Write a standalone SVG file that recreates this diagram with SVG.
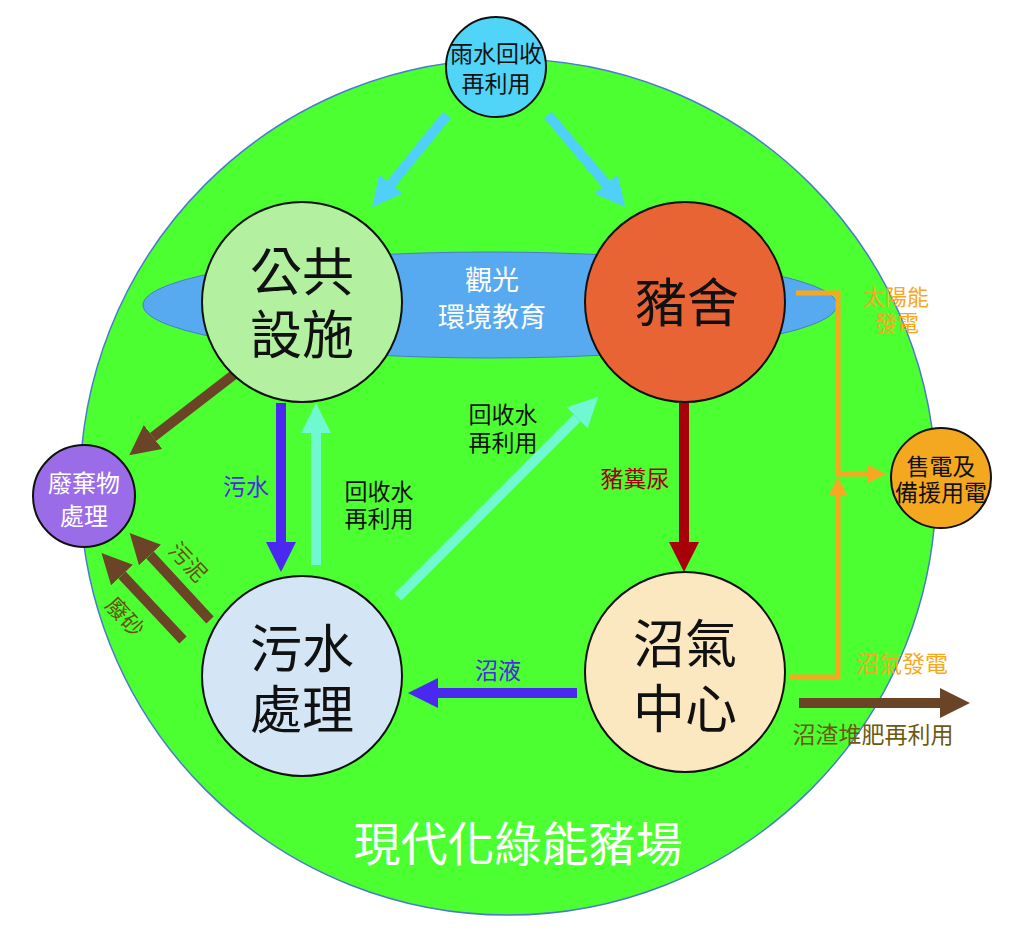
<svg xmlns="http://www.w3.org/2000/svg" width="1024" height="946" viewBox="0 0 1024 946">
<style>
.t{font-family:"Noto Sans CJK TC","Noto Sans CJK SC",sans-serif;text-anchor:middle}
.node{stroke:#111;stroke-width:2}
.big{font-size:52px;fill:#111}
.mid{font-size:23px}
.arr{fill:none;stroke-width:10}
</style>
<defs>
<marker id="hCyan" viewBox="0 0 10 10" refX="0" refY="5" markerWidth="3" markerHeight="3" orient="auto"><path d="M0,0 L10,5 L0,10 z" fill="#50d0f8"/></marker>
<marker id="hAqua" viewBox="0 0 10 10" refX="0" refY="5" markerWidth="3" markerHeight="3" orient="auto"><path d="M0,0 L10,5 L0,10 z" fill="#70f8d0"/></marker>
<marker id="hBlue" viewBox="0 0 10 10" refX="0" refY="5" markerWidth="3" markerHeight="3" orient="auto"><path d="M0,0 L10,5 L0,10 z" fill="#4a28f0"/></marker>
<marker id="hRed" viewBox="0 0 10 10" refX="0" refY="5" markerWidth="3" markerHeight="3" orient="auto"><path d="M0,0 L10,5 L0,10 z" fill="#a80008"/></marker>
<marker id="hBrown" viewBox="0 0 10 10" refX="0" refY="5" markerWidth="3" markerHeight="3" orient="auto"><path d="M0,0 L10,5 L0,10 z" fill="#6b4428"/></marker>
<marker id="hOrange" viewBox="0 0 10 10" refX="0" refY="5" markerWidth="3.6" markerHeight="3.6" orient="auto"><path d="M0,0 L10,5 L0,10 z" fill="#f8a820"/></marker>
</defs>

<g id="farm">
<circle cx="508" cy="487" r="428" fill="#4cff30" stroke="#4a7bd0" stroke-width="1.5"/>
<text class="t" x="518" y="861" font-size="47" fill="#fff">現代化綠能豬場</text>
</g>

<g id="tourism">
<ellipse cx="490" cy="305" rx="347" ry="53" fill="#58aaf0" stroke="#4a7bd0" stroke-width="1"/>
<text class="t" x="492" y="290" font-size="27" fill="#fff">觀光</text>
<text class="t" x="492" y="327" font-size="27" fill="#fff">環境教育</text>
</g>

<g id="connectors">
<line class="arr" x1="447" y1="115" x2="391" y2="184" stroke="#50d0f8" marker-end="url(#hCyan)"/>
<line class="arr" x1="548" y1="115" x2="606" y2="184" stroke="#50d0f8" marker-end="url(#hCyan)"/>
<line class="arr" x1="236" y1="373" x2="153" y2="437" stroke="#6b4428" marker-end="url(#hBrown)"/>
<line class="arr" x1="281" y1="403" x2="281" y2="542" stroke="#4a28f0" marker-end="url(#hBlue)"/>
<line class="arr" x1="316" y1="565" x2="316" y2="433" stroke="#70f8d0" marker-end="url(#hAqua)"/>
<line class="arr" x1="398" y1="597" x2="577" y2="418" stroke="#70f8d0" marker-end="url(#hAqua)"/>
<line class="arr" x1="684" y1="403" x2="684" y2="542" stroke="#a80008" marker-end="url(#hRed)"/>
<line class="arr" x1="577" y1="693" x2="438" y2="693" stroke="#4a28f0" marker-end="url(#hBlue)"/>
<line class="arr" x1="210" y1="620" x2="150" y2="555" stroke="#6b4428" marker-end="url(#hBrown)"/>
<line class="arr" x1="183" y1="640" x2="122" y2="575" stroke="#6b4428" marker-end="url(#hBrown)"/>
<line class="arr" x1="799" y1="703" x2="940" y2="703" stroke="#6b4428" marker-end="url(#hBrown)"/>
<path d="M790,677 H838 V495" fill="none" stroke="#f8a820" stroke-width="5" marker-end="url(#hOrange)"/>
<path d="M796,293 H838 V474 H868" fill="none" stroke="#f8a820" stroke-width="5" marker-end="url(#hOrange)"/>

<text class="t mid" x="246" y="495" fill="#4a28e8" font-size="22">污水</text>
<text class="t mid" x="379" y="500" fill="#111">回收水</text>
<text class="t mid" x="379" y="527" fill="#111">再利用</text>
<text class="t mid" x="503" y="423" fill="#111">回收水</text>
<text class="t mid" x="503" y="451" fill="#111">再利用</text>
<text class="t mid" x="635" y="487" fill="#a00010">豬糞尿</text>
<text class="t mid" x="498" y="679" fill="#4a28e8">沼液</text>
<text class="t" x="896" y="305" font-size="22" fill="#f8a820">太陽能</text>
<text class="t" x="897" y="331" font-size="22" fill="#f8a820">發電</text>
<text class="t mid" x="902" y="672" fill="#f8a820">沼氣發電</text>
<text class="t mid" x="873" y="743" fill="#6a5a10">沼渣堆肥再利用</text>
<text class="t" font-size="22" fill="#6a5010" transform="translate(188,562) rotate(47)" y="8">污泥</text>
<text class="t" font-size="22" fill="#6a5010" transform="translate(125,617) rotate(47)" y="8">廢砂</text>
</g>

<g id="rain">
<circle class="node" cx="496" cy="67" r="50" fill="#50d4f8"/>
<text class="t" x="496" y="62" font-size="23" fill="#111">雨水回收</text>
<text class="t" x="496" y="92" font-size="23" fill="#111">再利用</text>
</g>

<g id="public">
<circle class="node" cx="302" cy="302" r="100" fill="#b3f0a0"/>
<text class="t big" x="302" y="291">公共</text>
<text class="t big" x="302" y="354">設施</text>
</g>

<g id="pigsty">
<circle class="node" cx="685" cy="302" r="100" fill="#e86434"/>
<text class="t big" x="687" y="322">豬舍</text>
</g>

<g id="sewage">
<circle class="node" cx="302" cy="676" r="100" fill="#d4e6f6"/>
<text class="t big" x="302" y="668">污水</text>
<text class="t big" x="302" y="729">處理</text>
</g>

<g id="biogas">
<circle class="node" cx="685" cy="672" r="100" fill="#fbe8c0"/>
<text class="t big" x="685" y="663">沼氣</text>
<text class="t big" x="685" y="728">中心</text>
</g>

<g id="waste">
<circle class="node" cx="84" cy="496" r="51" fill="#9a6ce8"/>
<text class="t" x="84" y="492" font-size="24" fill="#fff">廢棄物</text>
<text class="t" x="84" y="525" font-size="24" fill="#fff">處理</text>
</g>

<g id="power">
<circle class="node" cx="941" cy="478" r="50" fill="#f4a820"/>
<text class="t" x="941" y="475" font-size="23" fill="#111">售電及</text>
<text class="t" x="941" y="501" font-size="23" fill="#111">備援用電</text>
</g>
</svg>
